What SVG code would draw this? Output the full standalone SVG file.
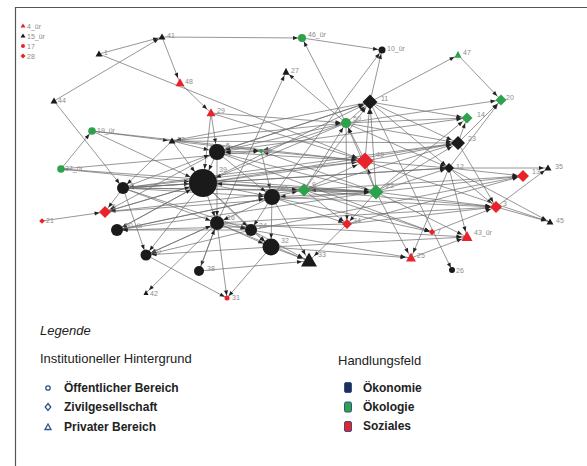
<svg xmlns="http://www.w3.org/2000/svg" width="587" height="466" viewBox="0 0 587 466">
<style>
.e line{stroke:#6a6a6a;stroke-width:0.7;fill:none}
.m2{marker-end:url(#m2)}.m4{marker-end:url(#m4)}.m5{marker-end:url(#m5)}.m7{marker-end:url(#m7)}.m8{marker-end:url(#m8)}.m14{marker-end:url(#m14)}
.k{fill:#1a1a1a}.g{fill:#2da14b}.r{fill:#e8232a}
.l{font-family:"Liberation Sans",Arial,sans-serif;font-size:7px;fill:#8c8c8c}
.lg{font-family:"Liberation Sans",Arial,sans-serif;fill:#222}
.ic{fill:none;stroke:#34508f;stroke-width:1.3}
</style>
<defs>
<marker id="m2" markerUnits="userSpaceOnUse" markerWidth="6" markerHeight="4" refX="7.5" refY="2" orient="auto" overflow="visible"><path d="M0,0L5,2L0,4z" fill="#222"/></marker>
<marker id="m4" markerUnits="userSpaceOnUse" markerWidth="6" markerHeight="4" refX="9" refY="2" orient="auto" overflow="visible"><path d="M0,0L5,2L0,4z" fill="#222"/></marker>
<marker id="m5" markerUnits="userSpaceOnUse" markerWidth="6" markerHeight="4" refX="10.5" refY="2" orient="auto" overflow="visible"><path d="M0,0L5,2L0,4z" fill="#222"/></marker>
<marker id="m7" markerUnits="userSpaceOnUse" markerWidth="6" markerHeight="4" refX="12" refY="2" orient="auto" overflow="visible"><path d="M0,0L5,2L0,4z" fill="#222"/></marker>
<marker id="m8" markerUnits="userSpaceOnUse" markerWidth="6" markerHeight="4" refX="13.5" refY="2" orient="auto" overflow="visible"><path d="M0,0L5,2L0,4z" fill="#222"/></marker>
<marker id="m14" markerUnits="userSpaceOnUse" markerWidth="6" markerHeight="4" refX="19" refY="2" orient="auto" overflow="visible"><path d="M0,0L5,2L0,4z" fill="#222"/></marker>
</defs>
<rect width="587" height="466" fill="#fff"/>
<path d="M15.5,466V7.5H587" fill="none" stroke="#555" stroke-width="1.2"/>
<g id="connectors" class="e">
<line x1="99" y1="54" x2="162" y2="37" class="m4"/>
<line x1="54" y1="101" x2="162" y2="37" class="m4"/>
<line x1="162" y1="37" x2="302" y2="38" class="m4"/>
<line x1="162" y1="37" x2="180" y2="83" class="m5"/>
<line x1="99" y1="54" x2="365" y2="161" class="m8"/>
<line x1="180" y1="83" x2="211" y2="113" class="m5"/>
<line x1="54" y1="101" x2="123" y2="188" class="m5"/>
<line x1="302" y1="38" x2="382" y2="50" class="m4"/>
<line x1="346" y1="123" x2="302" y2="38" class="m4"/>
<line x1="217" y1="223" x2="286" y2="72" class="m4"/>
<line x1="346" y1="123" x2="286" y2="72" class="m4"/>
<line x1="370" y1="102" x2="382" y2="50" class="m4"/>
<line x1="370" y1="102" x2="458" y2="55" class="m4"/>
<line x1="458" y1="55" x2="501" y2="100" class="m5"/>
<line x1="370" y1="102" x2="467" y2="118" class="m5"/>
<line x1="346" y1="123" x2="501" y2="100" class="m5"/>
<line x1="449" y1="168" x2="501" y2="100" class="m5"/>
<line x1="92" y1="131" x2="172" y2="141" class="m4"/>
<line x1="92" y1="131" x2="203" y2="183" class="m14"/>
<line x1="61" y1="169" x2="92" y2="131" class="m4"/>
<line x1="61" y1="169" x2="261" y2="151" class="m2"/>
<line x1="61" y1="169" x2="203" y2="183" class="m14"/>
<line x1="172" y1="141" x2="217" y2="152" class="m8"/>
<line x1="172" y1="141" x2="203" y2="183" class="m14"/>
<line x1="449" y1="168" x2="548" y2="168" class="m4"/>
<line x1="449" y1="168" x2="523" y2="176" class="m5"/>
<line x1="449" y1="168" x2="496" y2="207" class="m5"/>
<line x1="376" y1="192" x2="523" y2="176" class="m5"/>
<line x1="376" y1="192" x2="496" y2="207" class="m5"/>
<line x1="496" y1="207" x2="548" y2="168" class="m4"/>
<line x1="458" y1="143" x2="496" y2="207" class="m5"/>
<line x1="449" y1="168" x2="411" y2="258" class="m5"/>
<line x1="449" y1="168" x2="467" y2="237" class="m5"/>
<line x1="449" y1="168" x2="550" y2="222" class="m4"/>
<line x1="496" y1="207" x2="550" y2="222" class="m4"/>
<line x1="347" y1="224" x2="496" y2="207" class="m5"/>
<line x1="376" y1="192" x2="467" y2="237" class="m5"/>
<line x1="411" y1="258" x2="467" y2="237" class="m5"/>
<line x1="376" y1="192" x2="411" y2="258" class="m5"/>
<line x1="271" y1="247" x2="411" y2="258" class="m5"/>
<line x1="370" y1="102" x2="452" y2="270" class="m2"/>
<line x1="432" y1="232" x2="496" y2="207" class="m5"/>
<line x1="347" y1="224" x2="523" y2="176" class="m5"/>
<line x1="347" y1="224" x2="309" y2="261" class="m7"/>
<line x1="346" y1="123" x2="347" y2="224" class="m4"/>
<line x1="217" y1="223" x2="251" y2="230" class="m5"/>
<line x1="251" y1="230" x2="271" y2="247" class="m8"/>
<line x1="271" y1="247" x2="309" y2="261" class="m7"/>
<line x1="217" y1="223" x2="199" y2="271" class="m5"/>
<line x1="217" y1="223" x2="227" y2="298" class="m2"/>
<line x1="199" y1="271" x2="309" y2="261" class="m7"/>
<line x1="271" y1="247" x2="227" y2="298" class="m2"/>
<line x1="146" y1="255" x2="227" y2="298" class="m2"/>
<line x1="42" y1="221" x2="105" y2="212" class="m5"/>
<line x1="123" y1="188" x2="105" y2="212" class="m5"/>
<line x1="203" y1="183" x2="117" y2="230" class="m5"/>
<line x1="272" y1="197" x2="117" y2="230" class="m5"/>
<line x1="123" y1="188" x2="146" y2="255" class="m5"/>
<line x1="203" y1="183" x2="146" y2="255" class="m5"/>
<line x1="217" y1="223" x2="146" y2="255" class="m5"/>
<line x1="217" y1="223" x2="146" y2="293" class="m4"/>
<line x1="217" y1="223" x2="467" y2="237" class="m5"/>
<line x1="365" y1="161" x2="550" y2="222" class="m4"/>
<line x1="211" y1="113" x2="217" y2="152" class="m8"/>
<line x1="211" y1="113" x2="203" y2="183" class="m14"/>
<line x1="211" y1="113" x2="346" y2="123" class="m5"/>
<line x1="261" y1="151" x2="217" y2="152" class="m8"/>
<line x1="261" y1="151" x2="272" y2="197" class="m8"/>
<line x1="261" y1="151" x2="365" y2="161" class="m8"/>
<line x1="346" y1="123" x2="261" y2="151" class="m2"/>
<line x1="376" y1="192" x2="261" y2="151" class="m2"/>
<line x1="346" y1="123" x2="217" y2="152" class="m8"/>
<line x1="365" y1="161" x2="217" y2="152" class="m8"/>
<line x1="370" y1="102" x2="217" y2="152" class="m8"/>
<line x1="370" y1="102" x2="172" y2="141" class="m4"/>
<line x1="172" y1="141" x2="346" y2="123" class="m5"/>
<line x1="172" y1="141" x2="458" y2="143" class="m7"/>
<line x1="203" y1="183" x2="272" y2="197" class="m8"/>
<line x1="203" y1="183" x2="304" y2="190" class="m7"/>
<line x1="203" y1="183" x2="376" y2="192" class="m7"/>
<line x1="203" y1="183" x2="365" y2="161" class="m8"/>
<line x1="203" y1="183" x2="217" y2="223" class="m7"/>
<line x1="203" y1="183" x2="251" y2="230" class="m5"/>
<line x1="203" y1="183" x2="271" y2="247" class="m8"/>
<line x1="203" y1="183" x2="123" y2="188" class="m5"/>
<line x1="217" y1="152" x2="203" y2="183" class="m14"/>
<line x1="203" y1="183" x2="449" y2="168" class="m4"/>
<line x1="203" y1="183" x2="458" y2="143" class="m7"/>
<line x1="203" y1="183" x2="370" y2="102" class="m7"/>
<line x1="272" y1="197" x2="304" y2="190" class="m7"/>
<line x1="376" y1="192" x2="272" y2="197" class="m8"/>
<line x1="272" y1="197" x2="271" y2="247" class="m8"/>
<line x1="272" y1="197" x2="251" y2="230" class="m5"/>
<line x1="272" y1="197" x2="217" y2="223" class="m7"/>
<line x1="272" y1="197" x2="309" y2="261" class="m7"/>
<line x1="376" y1="192" x2="304" y2="190" class="m7"/>
<line x1="304" y1="190" x2="346" y2="123" class="m5"/>
<line x1="304" y1="190" x2="370" y2="102" class="m7"/>
<line x1="304" y1="190" x2="458" y2="143" class="m7"/>
<line x1="304" y1="190" x2="365" y2="161" class="m8"/>
<line x1="376" y1="192" x2="365" y2="161" class="m8"/>
<line x1="376" y1="192" x2="370" y2="102" class="m7"/>
<line x1="376" y1="192" x2="346" y2="123" class="m5"/>
<line x1="376" y1="192" x2="458" y2="143" class="m7"/>
<line x1="376" y1="192" x2="449" y2="168" class="m4"/>
<line x1="376" y1="192" x2="467" y2="118" class="m5"/>
<line x1="376" y1="192" x2="347" y2="224" class="m4"/>
<line x1="376" y1="192" x2="203" y2="183" class="m14"/>
<line x1="365" y1="161" x2="458" y2="143" class="m7"/>
<line x1="365" y1="161" x2="449" y2="168" class="m4"/>
<line x1="365" y1="161" x2="346" y2="123" class="m5"/>
<line x1="365" y1="161" x2="370" y2="102" class="m7"/>
<line x1="365" y1="161" x2="123" y2="188" class="m5"/>
<line x1="346" y1="123" x2="370" y2="102" class="m7"/>
<line x1="346" y1="123" x2="467" y2="118" class="m5"/>
<line x1="346" y1="123" x2="458" y2="143" class="m7"/>
<line x1="346" y1="123" x2="449" y2="168" class="m4"/>
<line x1="346" y1="123" x2="203" y2="183" class="m14"/>
<line x1="370" y1="102" x2="458" y2="143" class="m7"/>
<line x1="370" y1="102" x2="449" y2="168" class="m4"/>
<line x1="458" y1="143" x2="467" y2="118" class="m5"/>
<line x1="458" y1="143" x2="501" y2="100" class="m5"/>
<line x1="123" y1="188" x2="203" y2="183" class="m14"/>
<line x1="123" y1="188" x2="272" y2="197" class="m8"/>
<line x1="123" y1="188" x2="304" y2="190" class="m7"/>
<line x1="123" y1="188" x2="376" y2="192" class="m7"/>
<line x1="123" y1="188" x2="458" y2="143" class="m7"/>
<line x1="123" y1="188" x2="217" y2="223" class="m7"/>
<line x1="123" y1="188" x2="251" y2="230" class="m5"/>
<line x1="123" y1="188" x2="449" y2="168" class="m4"/>
<line x1="217" y1="152" x2="467" y2="118" class="m5"/>
<line x1="217" y1="152" x2="370" y2="102" class="m7"/>
<line x1="217" y1="152" x2="376" y2="192" class="m7"/>
<line x1="217" y1="152" x2="272" y2="197" class="m8"/>
<line x1="217" y1="152" x2="217" y2="223" class="m7"/>
<line x1="304" y1="190" x2="496" y2="207" class="m5"/>
<line x1="272" y1="197" x2="496" y2="207" class="m5"/>
<line x1="217" y1="223" x2="496" y2="207" class="m5"/>
<line x1="251" y1="230" x2="523" y2="176" class="m5"/>
<line x1="304" y1="190" x2="432" y2="232" class="m2"/>
<line x1="272" y1="197" x2="432" y2="232" class="m2"/>
<line x1="217" y1="152" x2="432" y2="232" class="m2"/>
<line x1="347" y1="224" x2="117" y2="230" class="m5"/>
<line x1="251" y1="230" x2="117" y2="230" class="m5"/>
<line x1="376" y1="192" x2="117" y2="230" class="m5"/>
<line x1="271" y1="247" x2="146" y2="255" class="m5"/>
<line x1="251" y1="230" x2="146" y2="255" class="m5"/>
<line x1="217" y1="152" x2="105" y2="212" class="m5"/>
<line x1="304" y1="190" x2="105" y2="212" class="m5"/>
<line x1="203" y1="183" x2="105" y2="212" class="m5"/>
<line x1="217" y1="223" x2="271" y2="247" class="m8"/>
<line x1="251" y1="230" x2="309" y2="261" class="m7"/>
<line x1="217" y1="223" x2="309" y2="261" class="m7"/>
<line x1="272" y1="197" x2="347" y2="224" class="m4"/>
<line x1="304" y1="190" x2="347" y2="224" class="m4"/>
<line x1="251" y1="230" x2="411" y2="258" class="m5"/>
<line x1="271" y1="247" x2="467" y2="237" class="m5"/>
<line x1="304" y1="190" x2="523" y2="176" class="m5"/>
<line x1="172" y1="141" x2="123" y2="188" class="m5"/>
<line x1="105" y1="212" x2="203" y2="183" class="m14"/>
<line x1="117" y1="230" x2="203" y2="183" class="m14"/>
<line x1="146" y1="255" x2="217" y2="223" class="m7"/>
<line x1="199" y1="271" x2="217" y2="223" class="m7"/>
<line x1="92" y1="131" x2="365" y2="161" class="m8"/>
<line x1="61" y1="169" x2="376" y2="192" class="m7"/>
<line x1="105" y1="212" x2="376" y2="192" class="m7"/>
<line x1="117" y1="230" x2="272" y2="197" class="m8"/>
<line x1="123" y1="188" x2="217" y2="152" class="m8"/>
<line x1="172" y1="141" x2="261" y2="151" class="m2"/>
<line x1="211" y1="113" x2="365" y2="161" class="m8"/>
<line x1="272" y1="197" x2="382" y2="50" class="m4"/>
</g>
<g id="n4ur"><polygon class="r" points="23,23.6 25.5,27.6 20.5,27.6"/><text class="l" x="27" y="28.5" font-size="6">4_ür</text></g>
<g id="n15ur"><polygon class="k" points="23,33.6 25.5,37.6 20.5,37.6"/><text class="l" x="27" y="38.5" font-size="6">15_ür</text></g>
<g id="n17"><circle class="r" cx="23" cy="46" r="2"/><text class="l" x="27" y="48.5" font-size="6">17</text></g>
<g id="n28"><polygon class="r" points="23,53.5 25.5,56 23,58.5 20.5,56"/><text class="l" x="27" y="58.5" font-size="6">28</text></g>
<g id="n41"><polygon class="k" points="162,33.4 165.5,39.4 158.5,39.4"/><text class="l" x="167" y="38">41</text></g>
<g id="n1"><polygon class="k" points="99,50.4 102.5,56.4 95.5,56.4"/><text class="l" x="104" y="55">1</text></g>
<g id="n44"><polygon class="k" points="54,97.4 57.5,103.4 50.5,103.4"/><text class="l" x="58" y="103">44</text></g>
<g id="n48"><polygon class="r" points="180,78.2 184.5,86.2 175.5,86.2"/><text class="l" x="185" y="84">48</text></g>
<g id="n46ur"><circle class="g" cx="302" cy="38" r="4"/><text class="l" x="308" y="37">46_ür</text></g>
<g id="n27"><polygon class="k" points="286,67.8 289.5,74.8 282.5,74.8"/><text class="l" x="291" y="73">27</text></g>
<g id="n10ur"><circle class="k" cx="382" cy="50" r="3.5"/><text class="l" x="387" y="51">10_ür</text></g>
<g id="n47"><polygon class="g" points="458,50.8 461.5,57.8 454.5,57.8"/><text class="l" x="463" y="55">47</text></g>
<g id="n20"><polygon class="g" points="501,94.5 506.5,100 501,105.5 495.5,100"/><text class="l" x="506" y="100">20</text></g>
<g id="n11"><polygon class="k" points="370,94.5 377.5,102 370,109.5 362.5,102"/><text class="l" x="381" y="101">11</text></g>
<g id="n29"><polygon class="r" points="211,108.2 215.5,116.2 206.5,116.2"/><text class="l" x="217" y="113">29</text></g>
<g id="n19ur"><circle class="g" cx="92" cy="131" r="3.8"/><text class="l" x="97" y="133">19_ür</text></g>
<g id="n18"><polygon class="k" points="172,137.4 175.5,143.4 168.5,143.4"/><text class="l" x="177" y="142">18</text></g>
<g id="n37ur"><circle class="g" cx="61" cy="169" r="3.8"/><text class="l" x="65" y="171">37_ür</text></g>
<g id="n50"><circle class="g" cx="346" cy="123" r="5"/><text class="l" x="353" y="121">50</text></g>
<g id="n14"><polygon class="g" points="467,112.5 472.5,118 467,123.5 461.5,118"/><text class="l" x="477" y="117">14</text></g>
<g id="n23"><polygon class="k" points="458,136 465,143 458,150 451,143"/><text class="l" x="468" y="141">23</text></g>
<g id="n5"><circle class="k" cx="217" cy="152" r="8"/><text class="l" x="226" y="148">5</text></g>
<g id="n36"><circle class="g" cx="261" cy="151" r="2"/><text class="l" x="264" y="153">36</text></g>
<g id="n49"><polygon class="r" points="365,152.5 373.5,161 365,169.5 356.5,161"/><text class="l" x="376" y="157">49</text></g>
<g id="n12"><polygon class="k" points="449,163 454,168 449,173 444,168"/><text class="l" x="456" y="169">12</text></g>
<g id="n35"><polygon class="k" points="548,164.4 551.5,170.4 544.5,170.4"/><text class="l" x="555" y="169">35</text></g>
<g id="n13"><polygon class="r" points="523,170 529,176 523,182 517,176"/><text class="l" x="532" y="174">13</text></g>
<g id="n39"><circle class="k" cx="203" cy="183" r="14"/><text class="l" x="219" y="172">39</text></g>
<g id="n2"><circle class="k" cx="123" cy="188" r="6"/><text class="l" x="130" y="188">2</text></g>
<g id="n9"><polygon class="g" points="304,183.5 310.5,190 304,196.5 297.5,190"/><text class="l" x="312" y="187">9</text></g>
<g id="n22"><polygon class="g" points="376,184.5 383.5,192 376,199.5 368.5,192"/><text class="l" x="386" y="188">22</text></g>
<g id="n40"><circle class="k" cx="272" cy="197" r="8"/><text class="l" x="280" y="191">40</text></g>
<g id="n3"><polygon class="r" points="496,201 502,207 496,213 490,207"/><text class="l" x="503" y="206">3</text></g>
<g id="n6"><polygon class="r" points="105,206 111,212 105,218 99,212"/><text class="l" x="112" y="209">6</text></g>
<g id="n21"><polygon class="r" points="42,218.2 44.8,221 42,223.8 39.2,221"/><text class="l" x="46" y="223">21</text></g>
<g id="n16"><circle class="k" cx="217" cy="223" r="7"/><text class="l" x="227" y="220">16</text></g>
<g id="n34"><polygon class="r" points="347,219 352,224 347,229 342,224"/><text class="l" x="353" y="223">34</text></g>
<g id="n45"><polygon class="k" points="550,218.4 553.5,224.4 546.5,224.4"/><text class="l" x="556" y="223">45</text></g>
<g id="n24"><circle class="k" cx="251" cy="230" r="6"/><text class="l" x="259" y="228">24</text></g>
<g id="n50ur"><circle class="k" cx="117" cy="230" r="6"/><text class="l" x="125" y="228">50_ür</text></g>
<g id="n7"><polygon class="r" points="432,228.8 435.2,232 432,235.2 428.8,232"/><text class="l" x="437" y="234">7</text></g>
<g id="n43ur"><polygon class="r" points="467,231 472.5,241 461.5,241"/><text class="l" x="474" y="235">43_ür</text></g>
<g id="n32"><circle class="k" cx="271" cy="247" r="8.5"/><text class="l" x="281" y="243">32</text></g>
<g id="n30"><circle class="k" cx="146" cy="255" r="5.5"/><text class="l" x="153" y="254">30</text></g>
<g id="n25"><polygon class="r" points="411,252.6 416,261.6 406,261.6"/><text class="l" x="417" y="258">25</text></g>
<g id="n33"><polygon class="k" points="309,252.6 317,266.6 301,266.6"/><text class="l" x="318" y="257">33</text></g>
<g id="n38"><circle class="k" cx="199" cy="271" r="5"/><text class="l" x="207" y="271">38</text></g>
<g id="n26"><circle class="k" cx="452" cy="270" r="3"/><text class="l" x="456" y="273">26</text></g>
<g id="n42"><polygon class="k" points="146,290 148.5,295 143.5,295"/><text class="l" x="150" y="296">42</text></g>
<g id="n31"><circle class="r" cx="227" cy="298" r="2.5"/><text class="l" x="232" y="300">31</text></g>
<g id="legend">
<text class="lg" x="40" y="335" font-size="13" font-style="italic">Legende</text>
<text class="lg" x="40" y="363" font-size="13">Institutioneller Hintergrund</text>
<circle class="ic" cx="48" cy="388" r="2.2"/>
<polygon class="ic" points="48,403.5 50.8,407 48,410.5 45.2,407"/>
<polygon class="ic" points="48,424 51,429.5 45,429.5"/>
<text class="lg" x="64" y="392" font-size="12" font-weight="bold">Öffentlicher Bereich</text>
<text class="lg" x="64" y="411" font-size="12" font-weight="bold">Zivilgesellschaft</text>
<text class="lg" x="64" y="431" font-size="12" font-weight="bold">Privater Bereich</text>
<text class="lg" x="338" y="365" font-size="13">Handlungsfeld</text>
<rect x="344.5" y="382.5" width="7" height="10" rx="1.5" fill="#1f2d5a" stroke="#34508f"/>
<rect x="344.5" y="402" width="7" height="10" rx="1.5" fill="#2da14b" stroke="#34508f"/>
<rect x="344.5" y="421.5" width="7" height="10" rx="1.5" fill="#e8232a" stroke="#34508f"/>
<text class="lg" x="363" y="392" font-size="12" font-weight="bold">Ökonomie</text>
<text class="lg" x="363" y="411" font-size="12" font-weight="bold">Ökologie</text>
<text class="lg" x="363" y="430" font-size="12" font-weight="bold">Soziales</text>
</g>
</svg>
